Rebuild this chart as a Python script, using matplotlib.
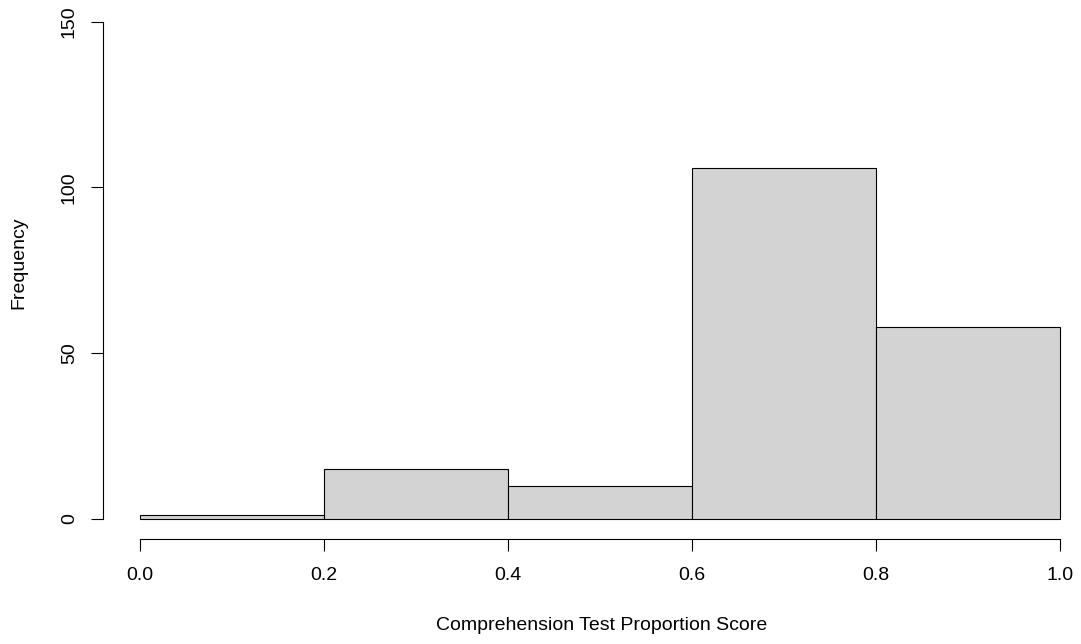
import numpy as np
import matplotlib
matplotlib.use("Agg")
import matplotlib.pyplot as plt

plt.rcParams['font.family'] = ['Liberation Sans', 'DejaVu Sans']

# Histogram bins and counts
bin_edges = [0.0, 0.2, 0.4, 0.6, 0.8, 1.0]
counts = [1, 15, 10, 106, 58]
x_ticks = [0.0, 0.2, 0.4, 0.6, 0.8, 1.0]
x_tick_labels = ["0.0", "0.2", "0.4", "0.6", "0.8", "1.0"]
y_ticks = [0, 50, 100, 150]
y_tick_labels = ["0", "50", "100", "150"]

W, H = 1081, 644
fig = plt.figure(figsize=(W / 100, H / 100), dpi=100)

# plot region in pixels (R-style 4% padding)
left_px, right_px = 103.2, 1081
bottom_px, top_px = 538.5, 2
ax = fig.add_axes([left_px / W, 1 - bottom_px / H,
                   (right_px - left_px) / W, (bottom_px - top_px) / H])

edges = np.array(bin_edges)
ax.bar(edges[:-1], counts, width=np.diff(edges), align='edge',
       color='#D3D3D3', edgecolor='black', linewidth=0.8)

ax.set_xlim(-0.04, (right_px - 140) / 920)
ax.set_ylim(-6, 156)

for s in ['top', 'right']:
    ax.spines[s].set_visible(False)
ax.spines['left'].set_bounds(0, 150)
ax.spines['bottom'].set_bounds(0, 1)
ax.spines['left'].set_linewidth(0.8)
ax.spines['bottom'].set_linewidth(0.8)

ax.set_xticks(x_ticks)
ax.set_xticklabels(x_tick_labels)
ax.set_yticks(y_ticks)
ax.set_yticklabels(y_tick_labels)
ax.tick_params(axis='both', direction='out', length=8.3, width=0.8,
               labelsize=14, colors='black')
ax.tick_params(axis='x', pad=12.5)
ax.tick_params(axis='y', pad=10)
plt.setp(ax.get_yticklabels(), rotation=90, va='center')

fig.text(19 / W, 1 - 263 / H, "Frequency", rotation=90,
         ha='center', va='center', fontsize=14)
fig.text(602 / W, 1 - 625 / H, "Comprehension Test Proportion Score",
         ha='center', va='center', fontsize=14)

fig.savefig("out.png", dpi=100)
